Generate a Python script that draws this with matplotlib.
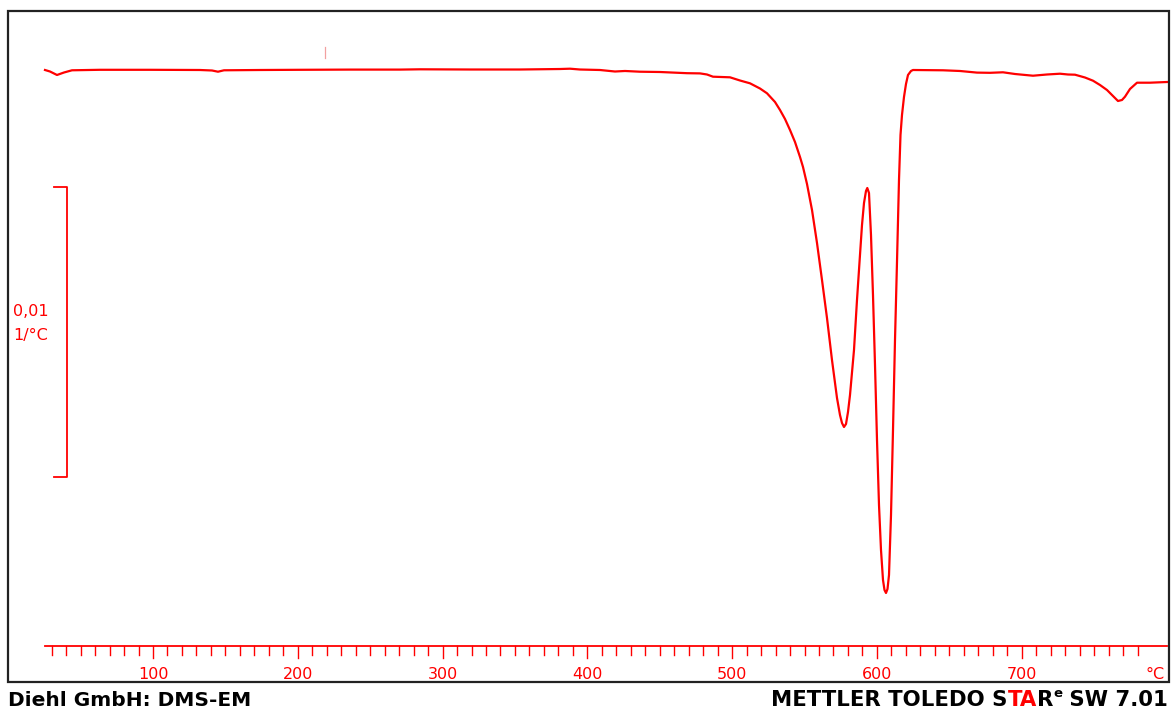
import matplotlib.pyplot as plt
from matplotlib.patches import Rectangle

# DTG curve, temperature in degC, dtg in 1e-3 1/degC
temp = [25.40, 28.86, 33.69, 38.53, 44.05, 63.39, 97.93, 132.46, 140.75, 144.89,
        149.04, 173.90, 201.53, 236.07, 270.60, 284.42, 318.95, 353.49, 381.11, 388.02,
        394.93, 408.74, 419.10, 426.01, 436.37, 450.18, 468.83, 477.81, 482.65, 486.79,
        498.53, 505.44, 512.35, 519.25, 524.09, 529.62, 533.07, 536.53, 539.98, 543.43,
        546.89, 548.96, 551.72, 555.18, 558.63, 562.08, 565.53, 568.98, 572.44, 574.51,
        575.89, 577.27, 578.66, 580.04, 581.42, 584.18, 586.25, 588.32, 589.71, 591.09,
        592.47, 593.37, 594.54, 595.92, 597.30, 598.69, 600.07, 601.45, 602.83, 604.21,
        605.25, 606.28, 607.32, 608.36, 609.74, 611.12, 612.50, 613.88, 615.26, 616.30,
        617.33, 618.71, 620.09, 621.48, 623.55, 624.93, 645.65, 657.39, 669.14, 678.12,
        687.09, 695.38, 707.82, 717.49, 726.47, 731.99, 736.83, 743.73, 749.26, 754.09,
        758.93, 763.07, 766.52, 769.29, 771.36, 774.81, 779.65, 788.62, 800.37]
dtg = [0.000, -0.052, -0.172, -0.086, -0.010, 0.007, 0.007, 0.000, -0.017, -0.059,
       -0.010, 0.000, 0.007, 0.014, 0.014, 0.024, 0.017, 0.017, 0.034, 0.045,
       0.017, 0.000, -0.052, -0.034, -0.059, -0.069, -0.110, -0.117, -0.155, -0.231,
       -0.252, -0.362, -0.459, -0.638, -0.803, -1.103, -1.379, -1.690, -2.069, -2.483,
       -3.000, -3.345, -3.931, -4.828, -5.966, -7.241, -8.552, -10.000, -11.310, -11.897,
       -12.172, -12.310, -12.207, -11.793, -11.207, -9.655, -7.931, -6.379, -5.345, -4.586,
       -4.172, -4.069, -4.241, -5.690, -7.759, -10.172, -12.759, -15.000, -16.552, -17.586,
       -17.931, -18.034, -17.897, -17.414, -15.345, -12.414, -9.310, -6.621, -3.793, -2.241,
       -1.552, -0.931, -0.483, -0.172, -0.034, 0.000, -0.010, -0.034, -0.090, -0.097,
       -0.079, -0.138, -0.197, -0.155, -0.128, -0.155, -0.162, -0.259, -0.369, -0.517,
       -0.690, -0.897, -1.069, -1.034, -0.921, -0.655, -0.438, -0.438, -0.414]

tick_minor = list(range(30, 790, 10))
tick_major = [100, 200, 300, 400, 500, 600, 700]
scale_val = 10  # 0,01 1/°C
red = '#ff0000'
W, H = 1171, 709

def yp(py):
    # pixel row -> data y
    return -(py - 70) / 29.0

def xp(px):
    return (px - 8.22) / 1.4478

fig = plt.figure(figsize=(W / 100, H / 100), dpi=100)
ax = fig.add_axes([0, 0, 1, 1])
ax.set_xlim(xp(0), xp(W))
ax.set_ylim(yp(H), yp(0))
ax.axis('off')

# frame
fig.patches.append(Rectangle((8 / W, 27 / H), 1161 / W, 671 / H, transform=fig.transFigure,
                             fill=False, lw=1.6, edgecolor='#222222'))

ax.plot(temp, dtg, color=red, lw=1.6, solid_joinstyle='round')

# small marker at top
ax.plot([xp(325), xp(325)], [yp(47), yp(58)], color='#f2a0a0', lw=0.9)

# temperature axis
ax.plot([temp[0], temp[-1]], [yp(646), yp(646)], color=red, lw=1.3)
for t in tick_minor:
    bottom = yp(658) if t in tick_major else yp(655)
    ax.plot([t, t], [yp(646), bottom], color=red, lw=1.0)
for t in tick_major:
    ax.text(t, yp(679), str(t), color=red, fontsize=11.5, ha='center', va='baseline',
            family='DejaVu Sans')
ax.text(xp(1155), yp(679), '°C', color=red, fontsize=11.5, ha='center', va='baseline',
        family='DejaVu Sans')

# scale bar
top = yp(187)
bx = xp(66.5)
cx = xp(54)
ax.plot([cx, bx, bx, cx], [top, top, top - scale_val, top - scale_val], color=red, lw=1.3)
ax.text(xp(31), yp(316), '0,01', color=red, fontsize=11.5, ha='center', va='baseline',
        family='DejaVu Sans')
ax.text(xp(31), yp(340), '1/°C', color=red, fontsize=11.5, ha='center', va='baseline',
        family='DejaVu Sans')

# footer
fig.text(8 / W, 3 / H, 'Diehl GmbH: DMS-EM', ha='left', va='baseline', color='black',
         family='DejaVu Sans', fontweight='bold', fontsize=14.5)
fnt = dict(family='DejaVu Sans', fontweight='bold', fontsize=15.3)
t_sw = fig.text(1168 / W, 3 / H, ' SW 7.01', ha='right', va='baseline', color='black', **fnt)
t_e = ax.annotate('e', xy=(0, 0.5), xycoords=t_sw, ha='right', va='bottom', color='black',
                  family='DejaVu Sans', fontweight='bold', fontsize=9.5)
t_r = ax.annotate('R', xy=(0, 0), xycoords=(t_e, t_sw), ha='right', va='bottom', color='black', **fnt)
t_ta = ax.annotate('TA', xy=(0, 0), xycoords=t_r, ha='right', va='bottom', color=red, **fnt)
ax.annotate('METTLER TOLEDO S', xy=(0, 0), xycoords=t_ta, ha='right', va='bottom', color='black', **fnt)

fig.savefig('out.png', dpi=100)
